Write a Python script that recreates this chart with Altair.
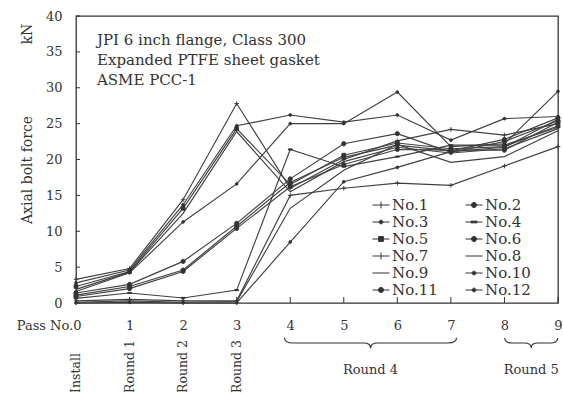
import altair as alt
import pandas as pd

# ---------------- data ----------------
passes = [0, 1, 2, 3, 4, 5, 6, 7, 8, 9]
series_names = ["No.1", "No.2", "No.3", "No.4", "No.5", "No.6",
                "No.7", "No.8", "No.9", "No.10", "No.11", "No.12"]

no1 = [3.3, 4.8, 14.4, 27.8, 16.0, 20.0, 22.6, 24.2, 23.4, 25.0]
no2 = [1.4, 2.6, 5.8, 11.1, 17.3, 22.2, 23.6, 21.0, 22.5, 25.4]
no3 = [2.8, 4.6, 13.7, 24.7, 26.2, 25.2, 26.2, 22.7, 25.7, 26.0]
no4 = [0.65, 1.4, 0.7, 1.8, 21.4, 19.0, 20.4, 22.0, 22.0, 24.5]
no5 = [2.3, 4.4, 13.2, 24.3, 16.5, 20.6, 22.3, 21.5, 21.8, 24.7]
no6 = [1.1, 2.3, 4.6, 10.7, 16.8, 20.3, 22.0, 21.2, 22.8, 25.8]
no7 = [0.3, 0.5, 0.3, 0.3, 15.0, 16.0, 16.7, 16.4, 19.1, 21.8]
no8 = [1.9, 4.3, 12.5, 23.9, 15.5, 19.7, 21.7, 20.9, 21.5, 24.3]
no9 = [0.1, 0.3, 0.1, 0.2, 13.2, 18.5, 22.1, 19.6, 20.4, 24.0]
no10 = [1.6, 4.2, 11.3, 16.6, 25.0, 25.0, 29.4, 21.8, 22.2, 29.5]
no11 = [0.9, 2.0, 4.4, 10.4, 16.2, 19.3, 21.4, 21.3, 21.3, 25.2]
no12 = [0.0, 0.1, 0.0, 0.0, 8.5, 16.9, 18.9, 21.1, 21.7, 25.6]

all_series = [no1, no2, no3, no4, no5, no6, no7, no8, no9, no10, no11, no12]

y_ticks = [0, 5, 10, 15, 20, 25, 30, 35, 40]
stage_labels = ["Install", "Round 1", "Round 2", "Round 3"]
stage_pass = [0, 1, 2, 3]
round_labels = ["Round 4", "Round 5"]
round_center = [5.5, 8.5]
note_text = "JPI 6 inch flange, Class 300\nExpanded PTFE sheet gasket\nASME PCC-1"

rows = []
for name, vals in zip(series_names, all_series):
    for p, v in zip(passes, vals):
        rows.append({"series": name, "pass": p, "force": v})
df = pd.DataFrame(rows)

# ---------------- styling ----------------
FONT = "DejaVu Serif"
INK = "#333333"
LINE = "#404040"

# marker shapes on the chart (unit box -1..1)
dot = "M-0.6,0A0.6,0.6 0 1,0 0.6,0A0.6,0.6 0 1,0 -0.6,0Z"
bigdot = "M-0.9,0A0.9,0.9 0 1,0 0.9,0A0.9,0.9 0 1,0 -0.9,0Z"
square = "M-0.8,-0.8H0.8V0.8H-0.8Z"
plus = "M-1,0H1M0,-1V1"
dash = "M-0.8,-0.25H0.8V0.25H-0.8Z"
none = "M0,0Z"
marker_paths = [plus, bigdot, dot, dash, square, bigdot,
                plus, none, none, dot, bigdot, dot]

# legend symbols: a line segment with the marker
l_dot = "M-1,0H1M-0.22,0A0.22,0.22 0 1,0 0.22,0A0.22,0.22 0 1,0 -0.22,0Z"
l_big = "M-1,0H1M-0.3,0A0.3,0.3 0 1,0 0.3,0A0.3,0.3 0 1,0 -0.3,0Z"
l_sq = "M-1,0H1M-0.28,-0.28H0.28V0.28H-0.28Z"
l_plus = "M-1,0H1M0,-0.4V0.4"
l_dash = "M-1,0H1M-0.35,-0.1H0.35V0.1H-0.35Z"
l_none = "M-1,0H1"
legend_paths = [l_plus, l_big, l_dot, l_dash, l_sq, l_big,
                l_plus, l_none, l_none, l_dot, l_big, l_dot]

# legend fills columns first: odd numbers in column 1, even in column 2
legend_order = series_names[0::2] + series_names[1::2]
legend_range = [legend_paths[series_names.index(n)] for n in legend_order]

xscale = alt.Scale(domain=[0, 9], nice=False, zero=False)
yscale = alt.Scale(domain=[0, 40], nice=False)

xaxis = alt.Axis(
    values=passes, title=None, labelFontSize=13, labelFont=FONT,
    labelColor=INK, labelPadding=16, labelFlush=False, labelOverlap=False,
    labelExpr="datum.value == 0 ? 'Pass No.0' : datum.label",
    labelAlign={"condition": {"test": "datum.value == 0", "value": "right"}, "value": "center"},
    labelOffset={"condition": {"test": "datum.value == 0", "value": 5}, "value": 0},
    domain=False, ticks=False, grid=False,
)
yaxis = alt.Axis(
    values=y_ticks, title=None, labelFontSize=13, labelFont=FONT,
    labelColor=INK, labelPadding=14, labelFlush=False, labelOverlap=False,
    domain=False, ticks=False, grid=False,
)

base = alt.Chart(df)

lines = base.mark_line(color=LINE, strokeWidth=1.15).encode(
    x=alt.X("pass:Q", scale=xscale, axis=xaxis),
    y=alt.Y("force:Q", scale=yscale, axis=yaxis),
    detail="series:N",
)

points = base.mark_point(filled=True, fill=INK, stroke=INK, strokeWidth=0.9,
                         opacity=1, size=22).encode(
    x=alt.X("pass:Q", scale=xscale, axis=xaxis),
    y=alt.Y("force:Q", scale=yscale, axis=yaxis),
    shape=alt.Shape("series:N", scale=alt.Scale(domain=series_names, range=marker_paths),
                    legend=None),
)

legend_layer = base.mark_point(filled=True, fill=INK, stroke=INK, strokeWidth=1,
                               opacity=1, clip=True).encode(
    x=alt.X("pass:Q", scale=xscale, axis=xaxis),
    y=alt.value(-3000),
    shape=alt.Shape(
        "series:N",
        scale=alt.Scale(domain=legend_order, range=legend_range),
        legend=alt.Legend(
            title=None, orient="none", legendX=296, legendY=180, columns=2,
            columnPadding=25, rowPadding=0, symbolSize=289, labelOffset=2,
            labelFont=FONT, labelFontSize=15, labelColor=INK, padding=0,
            symbolStrokeWidth=1,
        ),
    ),
)

# inward tick marks
ytick_df = pd.DataFrame({"pass": [0] * len(y_ticks), "force": y_ticks})
yticks = alt.Chart(ytick_df).mark_rule(color=INK, strokeWidth=1).encode(
    y=alt.Y("force:Q", scale=yscale, axis=yaxis),
    x=alt.value(0), x2=alt.value(4),
)
xtick_df = pd.DataFrame({"pass": passes})
xticks = alt.Chart(xtick_df).mark_rule(color=INK, strokeWidth=1).encode(
    x=alt.X("pass:Q", scale=xscale, axis=xaxis),
    y=alt.value(287), y2=alt.value(281),
)

# annotation block
note = alt.Chart(pd.DataFrame({"t": [note_text]})).mark_text(
    align="left", baseline="top", lineBreak="\n", lineHeight=20,
    font=FONT, fontSize=15, color=INK,
).encode(text="t:N", x=alt.value(21), y=alt.value(17))

# y axis titles
ytitle = alt.Chart(pd.DataFrame({"t": ["Axial bolt force"]})).mark_text(
    angle=270, font=FONT, fontSize=14, color=INK, baseline="middle", align="center",
).encode(text="t:N", x=alt.value(-48), y=alt.value(154))
kn = alt.Chart(pd.DataFrame({"t": ["kN"]})).mark_text(
    angle=270, font=FONT, fontSize=14, color=INK, baseline="middle", align="center",
).encode(text="t:N", x=alt.value(-48), y=alt.value(18))

# stage labels under passes 0-3
stages = alt.Chart(pd.DataFrame({"lab": stage_labels, "pass": stage_pass})).mark_text(
    angle=270, font=FONT, fontSize=12.5, color=INK, baseline="middle", align="left",
).encode(text="lab:N", x=alt.X("pass:Q", scale=xscale, axis=xaxis), y=alt.value(377))

# braces and round labels
big_brace = "M-1,-0.06Q-1,0 -0.9,0L-0.08,0Q0,0 0,0.06Q0,0 0.08,0L0.9,0Q1,0 1,-0.06"
small_brace = "M-1,-0.19Q-1,0 -0.72,0L-0.25,0Q0,0 0,0.19Q0,0 0.25,0L0.72,0Q1,0 1,-0.19"
brace1 = alt.Chart(pd.DataFrame({"pass": [round_center[0]]})).mark_point(
    filled=False, stroke=INK, strokeWidth=1.2, opacity=1, shape=big_brace, size=172 * 172,
).encode(x=alt.X("pass:Q", scale=xscale, axis=xaxis), y=alt.value(327))
brace2 = alt.Chart(pd.DataFrame({"pass": [round_center[1]]})).mark_point(
    filled=False, stroke=INK, strokeWidth=1.2, opacity=1, shape=small_brace, size=53 * 53,
).encode(x=alt.X("pass:Q", scale=xscale, axis=xaxis), y=alt.value(327))

rounds = alt.Chart(pd.DataFrame({"lab": round_labels, "pass": round_center})).mark_text(
    font=FONT, fontSize=13, color=INK, baseline="middle", align="center",
).encode(text="lab:N", x=alt.X("pass:Q", scale=xscale, axis=xaxis), y=alt.value(354))

chart = alt.layer(
    lines, points, legend_layer, yticks, xticks, note, ytitle, kn, stages,
    brace1, brace2, rounds,
).resolve_scale(shape="independent").properties(
    width=482, height=287,
    autosize=alt.AutoSizeParams(type="none"),
    padding={"left": 76, "top": 16, "right": 5, "bottom": 91},
    background="white",
).configure_view(stroke=INK, strokeWidth=1.3)

chart.save("out.html", embed_options={"renderer": "svg", "actions": False})
